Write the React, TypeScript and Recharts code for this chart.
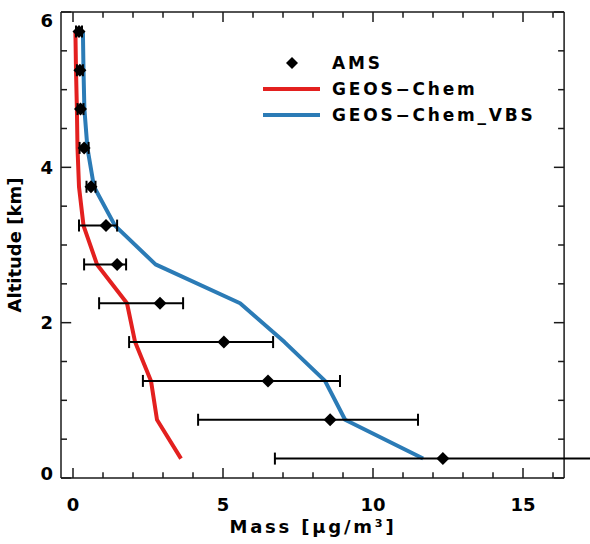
import {
    ComposedChart,
    Line,
    Scatter,
    ErrorBar,
    XAxis,
    YAxis,
    ReferenceLine,
    Legend,
    Label,
} from 'recharts';

// altitude bins (km) shared by the AMS profile and both model runs
const altitudes = [0.25, 0.75, 1.25, 1.75, 2.25, 2.75, 3.25, 3.75, 4.25, 4.75, 5.25, 5.75];
const amsMass = [12.33, 8.57, 6.5, 5.03, 2.9, 1.47, 1.1, 0.6, 0.37, 0.25, 0.23, 0.2];
const amsLow = [6.73, 4.17, 2.33, 1.87, 0.87, 0.37, 0.2, 0.45, 0.22, 0.15, 0.13, 0.1];
const amsHigh = [17.5, 11.5, 8.9, 6.67, 3.67, 1.77, 1.47, 0.75, 0.52, 0.35, 0.33, 0.3];
const geosChem = [3.6, 2.8, 2.6, 2.07, 1.8, 0.8, 0.35, 0.2, 0.15, 0.13, 0.1, 0.08];
const geosChemVbs = [11.67, 9.07, 8.4, 7.05, 5.57, 2.75, 1.4, 0.7, 0.48, 0.38, 0.35, 0.33];

const xMajor = [0, 5, 10, 15];
const xMinor = [1, 2, 3, 4, 6, 7, 8, 9, 11, 12, 13, 14, 16];
const yMajor = [0, 2, 4, 6];
const yMinor = [0.5, 1, 1.5, 2.5, 3, 3.5, 4.5, 5, 5.5];

const X_MIN = -0.4;
const X_MAX = 17.6;
const X_FRAME = 16.37;

const RED = '#e3201f';
const BLUE = '#2b7bb6';
const FONT = '"DejaVu Sans", sans-serif';

const data = altitudes.map((alt, i) => ({
    alt,
    ams: amsMass[i],
    err: [amsMass[i] - amsLow[i], amsHigh[i] - amsMass[i]],
    geos: geosChem[i],
    vbs: geosChemVbs[i],
}));

const Diamond = (props: any) => {
    const { cx, cy } = props;
    const r = 6.5;
    return (
        <polygon
            points={`${cx},${cy - r} ${cx + r},${cy} ${cx},${cy + r} ${cx - r},${cy}`}
            fill="#000"
        />
    );
};

const YTick = (props: any) => {
    const { x, y, payload } = props;
    const shift = payload.value === 6 ? 8 : payload.value === 0 ? -5 : 0;
    return (
        <text
            x={x}
            y={y + shift}
            textAnchor="end"
            dominantBaseline="central"
            fontFamily={FONT}
            fontWeight="bold"
            fontSize={18}
            fill="#000"
        >
            {payload.value}
        </text>
    );
};

const legendRows = [
    { name: 'AMS', kind: 'diamond', color: '#000' },
    { name: 'GEOS−Chem', kind: 'line', color: RED },
    { name: 'GEOS−Chem_VBS', kind: 'line', color: BLUE },
];

const LegendBox = () => (
    <div style={{ fontFamily: FONT, fontWeight: 'bold', fontSize: 17, letterSpacing: 2.8 }}>
        {legendRows.map((row) => (
            <div key={row.name} style={{ display: 'flex', alignItems: 'center', height: 26 }}>
                <svg width={57} height={26} style={{ marginRight: 12 }}>
                    {row.kind === 'diamond' ? (
                        <polygon points="29,7 35,13 29,19 23,13" fill={row.color} />
                    ) : (
                        <line x1={0} x2={57} y1={13} y2={13} stroke={row.color} strokeWidth={4} />
                    )}
                </svg>
                <span style={{ color: '#000', whiteSpace: 'nowrap' }}>{row.name}</span>
            </div>
        ))}
    </div>
);

const frame = '#1a1a1a';

export default function App() {
    const tickLines: any[] = [];
    const addX = (v: number, len: number) => {
        tickLines.push([{ x: v, y: 0 }, { x: v, y: len }]);
        tickLines.push([{ x: v, y: 6 }, { x: v, y: 6 - len }]);
    };
    const addY = (v: number, len: number) => {
        tickLines.push([{ x: X_MIN, y: v }, { x: X_MIN + len, y: v }]);
        tickLines.push([{ x: X_FRAME, y: v }, { x: X_FRAME - len, y: v }]);
    };
    xMajor.forEach((v) => addX(v, 0.13));
    xMinor.forEach((v) => addX(v, 0.075));
    yMajor.forEach((v) => addY(v, 0.34));
    yMinor.forEach((v) => addY(v, 0.2));

    return (
        <div
            style={{
                position: 'fixed',
                left: 0,
                top: 0,
                width: 590,
                height: 544,
                overflow: 'hidden',
                background: '#fff',
            }}
        >
            <ComposedChart
                width={640}
                height={544}
                data={data}
                layout="vertical"
                margin={{ top: 12, right: 39, bottom: 36, left: 0 }}
            >
                <XAxis
                    type="number"
                    domain={[X_MIN, X_MAX]}
                    ticks={xMajor}
                    axisLine={false}
                    tickLine={false}
                    tickSize={10}
                    tickMargin={10}
                    height={30}
                    tick={{ fontFamily: FONT, fontWeight: 'bold', fontSize: 18, fill: '#000' }}
                >
                    <Label
                        value="Mass [μg/m³]"
                        position="center"
                        dx={-18}
                        dy={34}
                        style={{ fontFamily: FONT, fontWeight: 'bold', fontSize: 18, fill: '#000', letterSpacing: 2.8 }}
                    />
                </XAxis>
                <YAxis
                    type="number"
                    dataKey="alt"
                    domain={[0, 6]}
                    reversed
                    ticks={yMajor}
                    axisLine={false}
                    tickLine={false}
                    tickSize={4}
                    tickMargin={4}
                    width={61}
                    tick={<YTick />}
                >
                    <Label
                        value="Altitude [km]"
                        position="center"
                        angle={-90}
                        dx={-16}
                        style={{ fontFamily: FONT, fontWeight: 'bold', fontSize: 18, fill: '#000' }}
                    />
                </YAxis>

                <ReferenceLine x={X_MIN} stroke={frame} strokeWidth={1.5} />
                <ReferenceLine x={X_FRAME} stroke={frame} strokeWidth={1.5} />
                <ReferenceLine
                    segment={[{ x: X_MIN, y: 0 }, { x: X_FRAME, y: 0 }]}
                    stroke={frame}
                    strokeWidth={1.5}
                />
                <ReferenceLine
                    segment={[{ x: X_MIN, y: 6 }, { x: X_FRAME, y: 6 }]}
                    stroke={frame}
                    strokeWidth={1.5}
                />
                {tickLines.map((seg, i) => (
                    <ReferenceLine key={i} segment={seg} stroke={frame} strokeWidth={1.5} />
                ))}

                <Line
                    dataKey="geos"
                    stroke={RED}
                    strokeWidth={4}
                    dot={false}
                    strokeLinejoin="round"
                    isAnimationActive={false}
                />
                <Line
                    dataKey="vbs"
                    stroke={BLUE}
                    strokeWidth={4}
                    dot={false}
                    strokeLinejoin="round"
                    isAnimationActive={false}
                />
                <Scatter dataKey="ams" shape={<Diamond />} isAnimationActive={false}>
                    <ErrorBar
                        dataKey="err"
                        direction="x"
                        width={6}
                        stroke="#000"
                        strokeWidth={2}
                        isAnimationActive={false}
                    />
                </Scatter>

                <Legend
                    layout="vertical"
                    align="center"
                    verticalAlign="middle"
                    content={<LegendBox />}
                    wrapperStyle={{ left: 263, top: 50, width: 300 }}
                />
            </ComposedChart>
        </div>
    );
}
